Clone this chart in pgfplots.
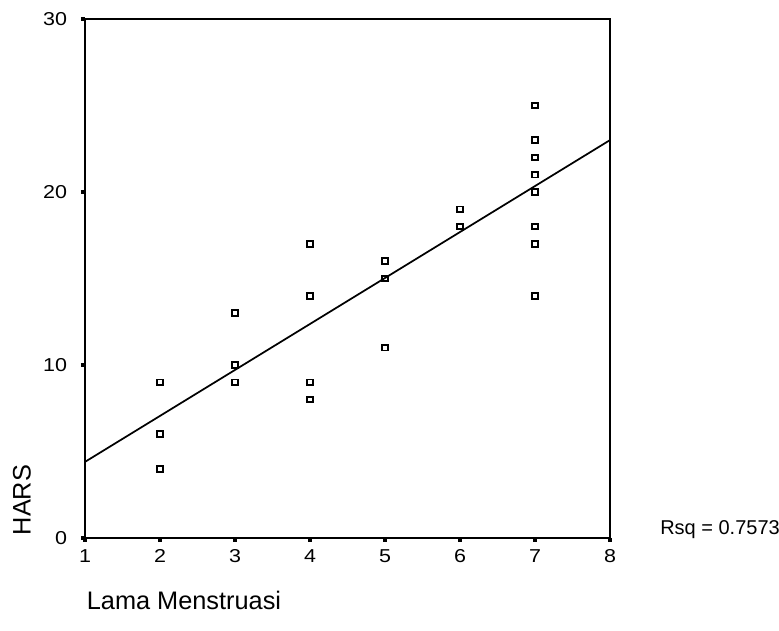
\documentclass[border=0pt]{standalone}
\usepackage{fontspec}
\setmainfont{Liberation Sans}
\newfontfamily\tickfont[FakeStretch=1.15]{Liberation Sans}
\usepackage{pgfplots}
\pgfplotsset{compat=1.18}
\begin{document}
\begin{tikzpicture}
\useasboundingbox (-63.75pt,-69.75pt) rectangle (520.5pt,403.5pt);
\begin{axis}[
  at={(0,0)}, anchor=south west,
  scale only axis, width=393.75pt, height=389.25pt,
  xmin=1, xmax=8, ymin=0, ymax=30,
  xtick={1,2,3,4,5,6,7,8}, ytick={0,10,20,30},
  axis line style={line width=1.3pt},
  tick align=outside,
  xtick pos=bottom, ytick pos=left,
  x tick style={line width=3pt, black},
  y tick style={line width=2.5pt, black},
  major tick length=3pt,
  xticklabel style={font=\tickfont\fontsize{14}{17}\selectfont, yshift=-2pt},
  yticklabel style={font=\tickfont\fontsize{14}{17}\selectfont, xshift=-7pt},
  xlabel={Lama Menstruasi},
  ylabel={HARS},
  label style={font=\fontsize{19}{21}\selectfont, inner sep=0pt},
  xlabel style={at={(axis description cs:0.003,-0.1195)}, anchor=west},
  ylabel style={at={(axis description cs:-0.12,0.0732)}, anchor=center, rotate=0},
  clip=false,
  /pgf/number format/assume math mode=true,
]
\addplot[only marks, mark=square, mark size=2.1pt, mark options={line width=1.4pt, black}] coordinates {
  (2,9) (2,6) (2,4)
  (3,13) (3,10) (3,9)
  (4,17) (4,14) (4,9) (4,8)
  (5,16) (5,15) (5,11)
  (6,19) (6,18)
  (7,25) (7,23) (7,22) (7,21) (7,20) (7,18) (7,17) (7,14)
};
\addplot[black, line width=1.3pt] coordinates {(1,4.4) (8,23.0)};
\node[anchor=west, font=\fontsize{15}{17}\selectfont, inner sep=0pt] at (axis description cs:1.0952,0.0154) {Rsq = 0.7573};
\end{axis}
\end{tikzpicture}
\end{document}
